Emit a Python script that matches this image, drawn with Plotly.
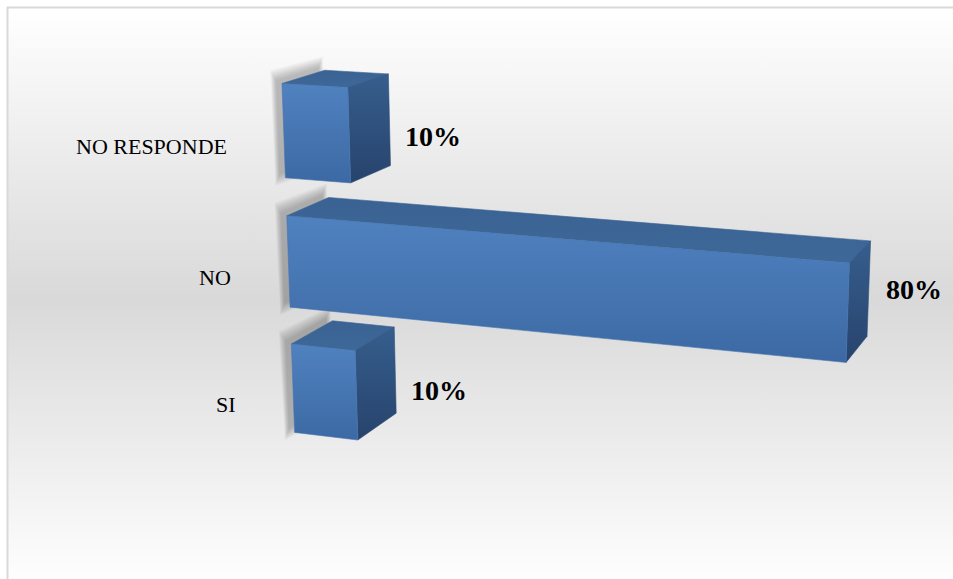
import numpy as np
import plotly.graph_objects as go

# Survey answers, listed bottom to top as they stack on the category axis
categories = ["SI", "NO", "NO RESPONDE"]
values = [10, 80, 10]                       # percent
value_text = ["10%", "80%", "10%"]

W, H = 953, 579
HALF = 0.355      # half bar thickness, in category units
DEPTH = 1.0       # bar depth into the scene

# Perspective view of the 3-D plot box (value, category, depth) onto the page
VIEW = np.array([
    [5.97163907, -9.15823695, 54.3859703, 293.021817],
    [0.295473646, -130.813268, -9.89396717, 388.409360],
    [-0.00107204803, -0.0158736813, 0.0408564667, 1.0],
])


def project(pts):
    pts = np.asarray(pts, float)
    hom = np.c_[pts, np.ones(len(pts))] @ VIEW.T
    return hom[:, 0] / hom[:, 2], hom[:, 1] / hom[:, 2]


def hull(xs, ys):
    pts = sorted(set(zip(np.round(xs, 3), np.round(ys, 3))))

    def cross(o, a, b):
        return (a[0] - o[0]) * (b[1] - o[1]) - (a[1] - o[1]) * (b[0] - o[0])

    lower, upper = [], []
    for p in pts:
        while len(lower) >= 2 and cross(lower[-2], lower[-1], p) <= 0:
            lower.pop()
        lower.append(p)
    for p in reversed(pts):
        while len(upper) >= 2 and cross(upper[-2], upper[-1], p) <= 0:
            upper.pop()
        upper.append(p)
    h = lower[:-1] + upper[:-1]
    return np.array([q[0] for q in h]), np.array([q[1] for q in h])


def face(xs, ys, c0, c1, line_color):
    xs = list(xs) + [xs[0]]
    ys = list(ys) + [ys[0]]
    return go.Scatter(
        x=xs, y=ys, mode="lines", fill="toself",
        line=dict(width=0.6, color=line_color),
        fillgradient=dict(type="vertical", colorscale=[[0, c0], [1, c1]],
                          start=min(ys), stop=max(ys)),
        hoverinfo="skip", showlegend=False,
    )


fig = go.Figure()

# chart-area background: light vertical gradient, darkest mid-height
fig.add_trace(go.Scatter(
    x=[8, W + 5, W + 5, 8, 8], y=[8, 8, H + 5, H + 5, 8], mode="lines", fill="toself",
    line=dict(width=0),
    fillgradient=dict(type="vertical",
                      colorscale=[[0, "#ffffff"], [0.5, "#d9d9d9"], [1, "#ffffff"]],
                      start=8, stop=590),
    hoverinfo="skip", showlegend=False,
))

annotations = []
for i, (cat, val, txt) in enumerate(zip(categories, values, value_text)):
    c = float(i)
    y0, y1 = c - HALF, c + HALF
    corners = [(x, y, z) for x in (0, val) for y in (y0, y1) for z in (0, DEPTH)]
    hx, hy = hull(*project(corners))

    # soft shadow cast behind the left end of the bar
    ex, ey = project([(0, y0, 0), (0, y1, 0), (0, y1, DEPTH), (0, y0, DEPTH)])
    cx, cy = ex.mean(), ey.mean()
    for e in range(0, 13):
        dx, dy = ex - cx, ey - cy
        n = np.hypot(dx, dy)
        sx = ex + dx / n * e - 6
        sy = ey + dy / n * e - 3
        fig.add_trace(go.Scatter(x=list(sx) + [sx[0]], y=list(sy) + [sy[0]], mode="lines",
                                 fill="toself", line=dict(width=0),
                                 fillcolor="rgba(0,0,0,0.021)", hoverinfo="skip",
                                 showlegend=False))

    front = project([(0, y1, 0), (val, y1, 0), (val, y0, 0), (0, y0, 0)])
    top = project([(0, y1, 0), (val, y1, 0), (val, y1, DEPTH), (0, y1, DEPTH)])
    side = project([(val, y1, 0), (val, y1, DEPTH), (val, y0, DEPTH), (val, y0, 0)])
    fig.add_trace(face(*top, "#3a6394", "#3e6898", "#3c6596"))
    fig.add_trace(face(*side, "#365e8d", "#27436c", "#2f507c"))
    fig.add_trace(face(*front, "#5082c0", "#3c69a3", "#4676b2"))

    # category label beside the value-axis origin
    lx, ly = project([(0, c, 0)])
    annotations.append(dict(x=lx[0], y=ly[0], xref="x", yref="y", text=cat,
                            showarrow=False, xanchor="right", yanchor="middle",
                            xshift=-55, yshift=-16,
                            font=dict(family="Liberation Serif", size=22, color="#000000")))
    # value label to the right of the bar
    annotations.append(dict(x=hx.max(), y=(hy.min() + hy.max()) / 2, xref="x", yref="y",
                            text="<b>%s</b>" % txt, showarrow=False, xanchor="left",
                            yanchor="middle", xshift=13, yshift=-10,
                            font=dict(family="Liberation Serif", size=28, color="#000000")))

fig.update_layout(
    width=W, height=H, margin=dict(l=0, r=0, t=0, b=0),
    paper_bgcolor="#ffffff", plot_bgcolor="#ffffff",
    xaxis=dict(range=[0, W], visible=False, fixedrange=True),
    yaxis=dict(range=[H, 0], visible=False, fixedrange=True),
    annotations=annotations,
    shapes=[
        dict(type="line", xref="x", yref="y", x0=7, x1=W, y0=7.5, y1=7.5,
             line=dict(color="#d9d9d9", width=2)),
        dict(type="line", xref="x", yref="y", x0=7.5, x1=7.5, y0=7, y1=H,
             line=dict(color="#d9d9d9", width=2)),
    ],
    showlegend=False,
)

fig.write_html("out.html")
